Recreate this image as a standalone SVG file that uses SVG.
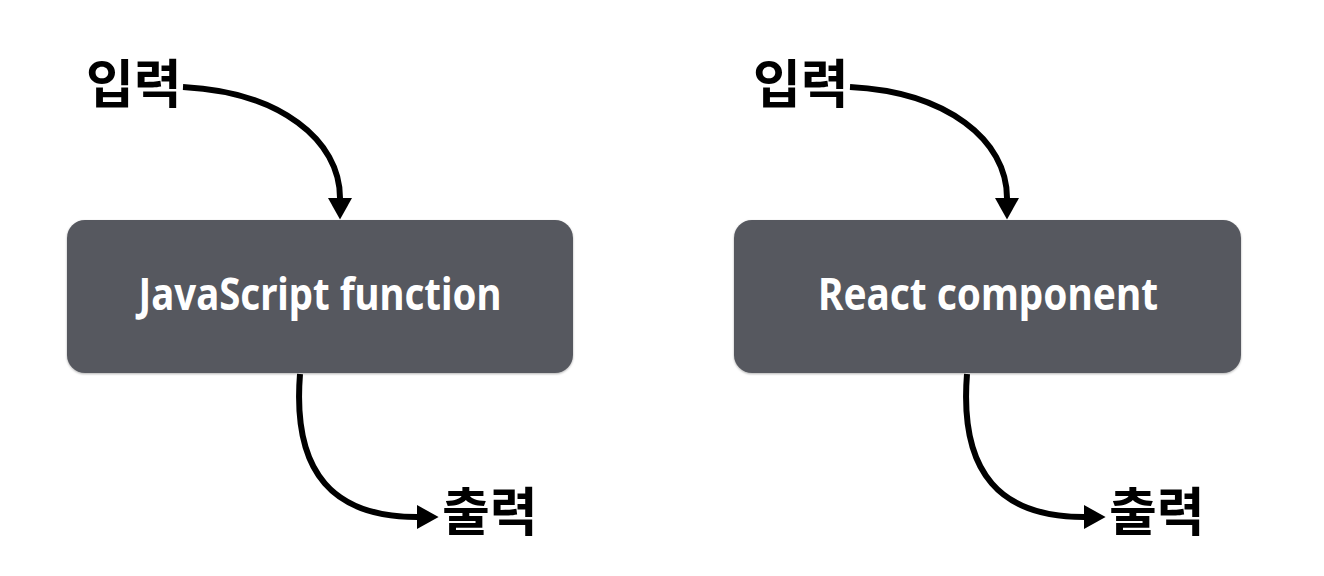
<svg xmlns="http://www.w3.org/2000/svg" width="1324" height="576" viewBox="0 0 1324 576">
<style>
.box{fill:#56585f;}
.lbl{font-family:"Noto Sans","Liberation Sans",sans-serif;font-weight:700;font-size:44px;fill:#ffffff;text-anchor:middle;}
.ko{font-family:"Noto Sans CJK KR","Noto Sans",sans-serif;font-weight:700;font-size:52px;fill:#000000;}
.con{fill:none;stroke:#000;stroke-width:6;stroke-linecap:butt;}
</style>
<defs>
<marker id="ah" markerWidth="4" markerHeight="4" refX="0" refY="2" orient="auto" markerUnits="strokeWidth">
<path d="M0,0 L3.6,2 L0,4 Z" fill="#000"/>
</marker>
<filter id="sh" x="-5%" y="-5%" width="110%" height="115%">
<feDropShadow dx="0" dy="1" stdDeviation="1.2" flood-color="#000" flood-opacity="0.3"/>
</filter>
</defs>
<rect width="1324" height="576" fill="#ffffff"/>
<g id="n1">
<rect class="box" x="67" y="220" width="506" height="153" rx="18" filter="url(#sh)"/>
<text class="lbl" x="320" y="310" textLength="363" lengthAdjust="spacingAndGlyphs">JavaScript function</text>
</g>
<g id="n2">
<rect class="box" x="734" y="220" width="507" height="153" rx="18" filter="url(#sh)"/>
<text class="lbl" x="988" y="310" textLength="340" lengthAdjust="spacingAndGlyphs">React component</text>
</g>
<g id="in1"><text class="ko" x="86" y="103">입력</text></g>
<g id="out1"><text class="ko" x="442" y="531">출력</text></g>
<g id="in2"><text class="ko" x="753" y="103">입력</text></g>
<g id="out2"><text class="ko" x="1109" y="531">출력</text></g>
<g id="connectors">
<path class="con" d="M183,87 C280,92 340,140 340,198" marker-end="url(#ah)"/>
<path class="con" d="M300,374 C292,475 335,517 417,517" marker-end="url(#ah)"/>
<path class="con" d="M850,87 C947,92 1007,140 1007,198" marker-end="url(#ah)"/>
<path class="con" d="M967,374 C959,475 1002,517 1084,517" marker-end="url(#ah)"/>
</g>
</svg>
